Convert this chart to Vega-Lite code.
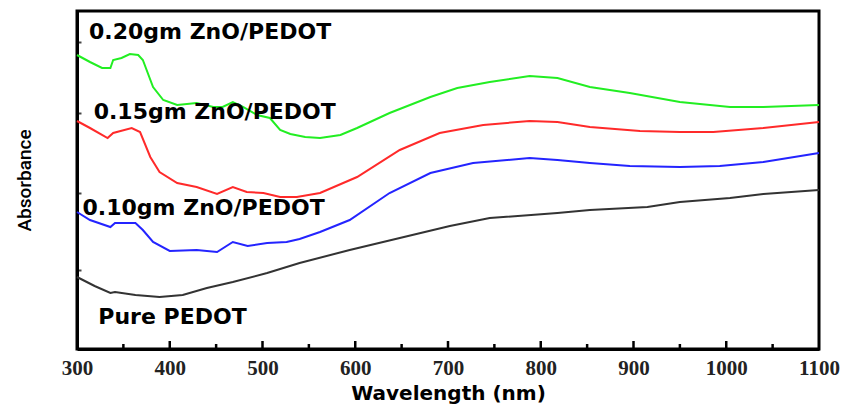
{
  "$schema": "https://vega.github.io/schema/vega-lite/v6.json",
  "width": 742,
  "height": 338,
  "autosize": "none",
  "padding": {"left": 77, "top": 11, "right": 28, "bottom": 57},
  "background": "white",
  "config": {"view": {"stroke": "black", "strokeWidth": 3}},
  "datasets": {
    "spectra": [
      {"series": "0.20gm", "wl": 300, "abs": 2.94}, {"series": "0.20gm", "wl": 314, "abs": 2.87}, {"series": "0.20gm", "wl": 327, "abs": 2.81}, {"series": "0.20gm", "wl": 336, "abs": 2.81}, {"series": "0.20gm", "wl": 339, "abs": 2.89}, {"series": "0.20gm", "wl": 348, "abs": 2.91}, {"series": "0.20gm", "wl": 357, "abs": 2.95}, {"series": "0.20gm", "wl": 366, "abs": 2.94}, {"series": "0.20gm", "wl": 371, "abs": 2.89}, {"series": "0.20gm", "wl": 382, "abs": 2.62}, {"series": "0.20gm", "wl": 393, "abs": 2.49}, {"series": "0.20gm", "wl": 408, "abs": 2.44}, {"series": "0.20gm", "wl": 429, "abs": 2.46}, {"series": "0.20gm", "wl": 447, "abs": 2.42}, {"series": "0.20gm", "wl": 457, "abs": 2.42}, {"series": "0.20gm", "wl": 468, "abs": 2.47}, {"series": "0.20gm", "wl": 479, "abs": 2.42}, {"series": "0.20gm", "wl": 494, "abs": 2.34}, {"series": "0.20gm", "wl": 508, "abs": 2.31}, {"series": "0.20gm", "wl": 519, "abs": 2.19}, {"series": "0.20gm", "wl": 530, "abs": 2.15}, {"series": "0.20gm", "wl": 546, "abs": 2.12}, {"series": "0.20gm", "wl": 562, "abs": 2.11}, {"series": "0.20gm", "wl": 584, "abs": 2.14}, {"series": "0.20gm", "wl": 602, "abs": 2.21}, {"series": "0.20gm", "wl": 637, "abs": 2.36}, {"series": "0.20gm", "wl": 681, "abs": 2.52}, {"series": "0.20gm", "wl": 710, "abs": 2.61}, {"series": "0.20gm", "wl": 745, "abs": 2.67}, {"series": "0.20gm", "wl": 788, "abs": 2.73}, {"series": "0.20gm", "wl": 818, "abs": 2.71}, {"series": "0.20gm", "wl": 853, "abs": 2.62}, {"series": "0.20gm", "wl": 896, "abs": 2.56}, {"series": "0.20gm", "wl": 950, "abs": 2.47}, {"series": "0.20gm", "wl": 1004, "abs": 2.42}, {"series": "0.20gm", "wl": 1040, "abs": 2.42}, {"series": "0.20gm", "wl": 1100, "abs": 2.44},
      {"series": "0.15gm", "wl": 300, "abs": 2.28}, {"series": "0.15gm", "wl": 314, "abs": 2.21}, {"series": "0.15gm", "wl": 333, "abs": 2.11}, {"series": "0.15gm", "wl": 339, "abs": 2.16}, {"series": "0.15gm", "wl": 359, "abs": 2.21}, {"series": "0.15gm", "wl": 368, "abs": 2.17}, {"series": "0.15gm", "wl": 379, "abs": 1.92}, {"series": "0.15gm", "wl": 389, "abs": 1.77}, {"series": "0.15gm", "wl": 408, "abs": 1.66}, {"series": "0.15gm", "wl": 429, "abs": 1.62}, {"series": "0.15gm", "wl": 451, "abs": 1.55}, {"series": "0.15gm", "wl": 468, "abs": 1.62}, {"series": "0.15gm", "wl": 483, "abs": 1.57}, {"series": "0.15gm", "wl": 501, "abs": 1.56}, {"series": "0.15gm", "wl": 519, "abs": 1.52}, {"series": "0.15gm", "wl": 537, "abs": 1.52}, {"series": "0.15gm", "wl": 562, "abs": 1.56}, {"series": "0.15gm", "wl": 602, "abs": 1.72}, {"series": "0.15gm", "wl": 648, "abs": 1.99}, {"series": "0.15gm", "wl": 691, "abs": 2.16}, {"series": "0.15gm", "wl": 738, "abs": 2.24}, {"series": "0.15gm", "wl": 788, "abs": 2.28}, {"series": "0.15gm", "wl": 818, "abs": 2.27}, {"series": "0.15gm", "wl": 853, "abs": 2.22}, {"series": "0.15gm", "wl": 907, "abs": 2.18}, {"series": "0.15gm", "wl": 950, "abs": 2.17}, {"series": "0.15gm", "wl": 986, "abs": 2.17}, {"series": "0.15gm", "wl": 1040, "abs": 2.21}, {"series": "0.15gm", "wl": 1100, "abs": 2.27},
      {"series": "0.10gm", "wl": 300, "abs": 1.37}, {"series": "0.10gm", "wl": 314, "abs": 1.29}, {"series": "0.10gm", "wl": 336, "abs": 1.22}, {"series": "0.10gm", "wl": 341, "abs": 1.26}, {"series": "0.10gm", "wl": 363, "abs": 1.26}, {"series": "0.10gm", "wl": 371, "abs": 1.19}, {"series": "0.10gm", "wl": 382, "abs": 1.07}, {"series": "0.10gm", "wl": 400, "abs": 0.98}, {"series": "0.10gm", "wl": 429, "abs": 0.99}, {"series": "0.10gm", "wl": 451, "abs": 0.97}, {"series": "0.10gm", "wl": 468, "abs": 1.07}, {"series": "0.10gm", "wl": 484, "abs": 1.03}, {"series": "0.10gm", "wl": 505, "abs": 1.06}, {"series": "0.10gm", "wl": 526, "abs": 1.07}, {"series": "0.10gm", "wl": 540, "abs": 1.10}, {"series": "0.10gm", "wl": 562, "abs": 1.17}, {"series": "0.10gm", "wl": 594, "abs": 1.29}, {"series": "0.10gm", "wl": 637, "abs": 1.56}, {"series": "0.10gm", "wl": 681, "abs": 1.76}, {"series": "0.10gm", "wl": 727, "abs": 1.86}, {"series": "0.10gm", "wl": 788, "abs": 1.91}, {"series": "0.10gm", "wl": 818, "abs": 1.89}, {"series": "0.10gm", "wl": 853, "abs": 1.86}, {"series": "0.10gm", "wl": 896, "abs": 1.83}, {"series": "0.10gm", "wl": 950, "abs": 1.82}, {"series": "0.10gm", "wl": 993, "abs": 1.83}, {"series": "0.10gm", "wl": 1040, "abs": 1.87}, {"series": "0.10gm", "wl": 1100, "abs": 1.96},
      {"series": "Pure", "wl": 300, "abs": 0.72}, {"series": "Pure", "wl": 319, "abs": 0.63}, {"series": "Pure", "wl": 336, "abs": 0.56}, {"series": "Pure", "wl": 341, "abs": 0.57}, {"series": "Pure", "wl": 363, "abs": 0.54}, {"series": "Pure", "wl": 389, "abs": 0.52}, {"series": "Pure", "wl": 414, "abs": 0.54}, {"series": "Pure", "wl": 440, "abs": 0.61}, {"series": "Pure", "wl": 468, "abs": 0.67}, {"series": "Pure", "wl": 505, "abs": 0.76}, {"series": "Pure", "wl": 540, "abs": 0.86}, {"series": "Pure", "wl": 594, "abs": 0.99}, {"series": "Pure", "wl": 648, "abs": 1.11}, {"series": "Pure", "wl": 702, "abs": 1.23}, {"series": "Pure", "wl": 745, "abs": 1.31}, {"series": "Pure", "wl": 818, "abs": 1.36}, {"series": "Pure", "wl": 853, "abs": 1.39}, {"series": "Pure", "wl": 915, "abs": 1.42}, {"series": "Pure", "wl": 950, "abs": 1.47}, {"series": "Pure", "wl": 1004, "abs": 1.51}, {"series": "Pure", "wl": 1040, "abs": 1.55}, {"series": "Pure", "wl": 1100, "abs": 1.59}
    ],
    "labels": [
      {"text": "0.20gm ZnO/PEDOT", "wl": 313, "abs": 3.17},
      {"text": "0.15gm ZnO/PEDOT", "wl": 318, "abs": 2.37},
      {"text": "0.10gm ZnO/PEDOT", "wl": 306, "abs": 1.41},
      {"text": "Pure PEDOT", "wl": 323, "abs": 0.32}
    ],
    "ticks": [
      {"wl": 350, "top": 0.05}, {"wl": 400, "top": 0.08}, {"wl": 450, "top": 0.05}, {"wl": 500, "top": 0.08},
      {"wl": 550, "top": 0.05}, {"wl": 600, "top": 0.08}, {"wl": 650, "top": 0.05}, {"wl": 700, "top": 0.08},
      {"wl": 750, "top": 0.05}, {"wl": 800, "top": 0.08}, {"wl": 850, "top": 0.05}, {"wl": 900, "top": 0.08},
      {"wl": 950, "top": 0.05}, {"wl": 1000, "top": 0.08}, {"wl": 1050, "top": 0.05}
    ]
  },
  "layer": [
    {
      "data": {"name": "spectra"},
      "mark": {"type": "line", "strokeWidth": 2},
      "encoding": {
        "x": {"field": "wl", "type": "quantitative", "scale": {"domain": [300, 1100], "nice": false, "zero": false},
          "axis": {"orient": "bottom", "values": [300, 400, 500, 600, 700, 800, 900, 1000, 1100], "format": "d",
            "grid": false, "domainColor": "black", "domainWidth": 3,
            "ticks": false,
            "labelPadding": 8, "labelFont": "Liberation Serif", "labelFontWeight": "bold", "labelFontSize": 21, "labelColor": "#222", "labelFlush": false, "labelOverlap": false,
            "title": "Wavelength (nm)", "titleFont": "DejaVu Sans", "titleFontWeight": "bold", "titleFontSize": 20, "titleColor": "black", "titlePadding": 5}},
        "y": {"field": "abs", "type": "quantitative", "scale": {"domain": [0, 3.38], "nice": false, "zero": false},
          "axis": {"orient": "left", "values": [0.79, 1.56, 2.36, 3.07], "labels": false, "grid": false, "ticks": true, "tickSize": -4, "tickWidth": 2, "tickColor": "#444", "domainColor": "black", "domainWidth": 3, "title": "Absorbance", "titleFont": "Roboto", "titleFontWeight": 500, "titleFontSize": 19, "titleColor": "black", "titlePadding": 42}},
        "color": {"field": "series", "type": "nominal", "legend": null,
          "scale": {"domain": ["0.20gm", "0.15gm", "0.10gm", "Pure"], "range": ["#22ee22", "#ff2a2a", "#2424ff", "#333333"]}},
        "detail": {"field": "series"}
      }
    },
    {
      "data": {"name": "ticks"},
      "mark": {"type": "rule", "strokeWidth": 2.5, "color": "black"},
      "encoding": {
        "x": {"field": "wl", "type": "quantitative"},
        "y": {"field": "top", "type": "quantitative"},
        "y2": {"datum": 0}
      }
    },
    {
      "data": {"name": "labels"},
      "mark": {"type": "text", "align": "left", "baseline": "middle", "font": "DejaVu Sans", "fontWeight": "bold", "fontSize": 22, "color": "black"},
      "encoding": {
        "x": {"field": "wl", "type": "quantitative"},
        "y": {"field": "abs", "type": "quantitative"},
        "text": {"field": "text"}
      }
    }
  ]
}
